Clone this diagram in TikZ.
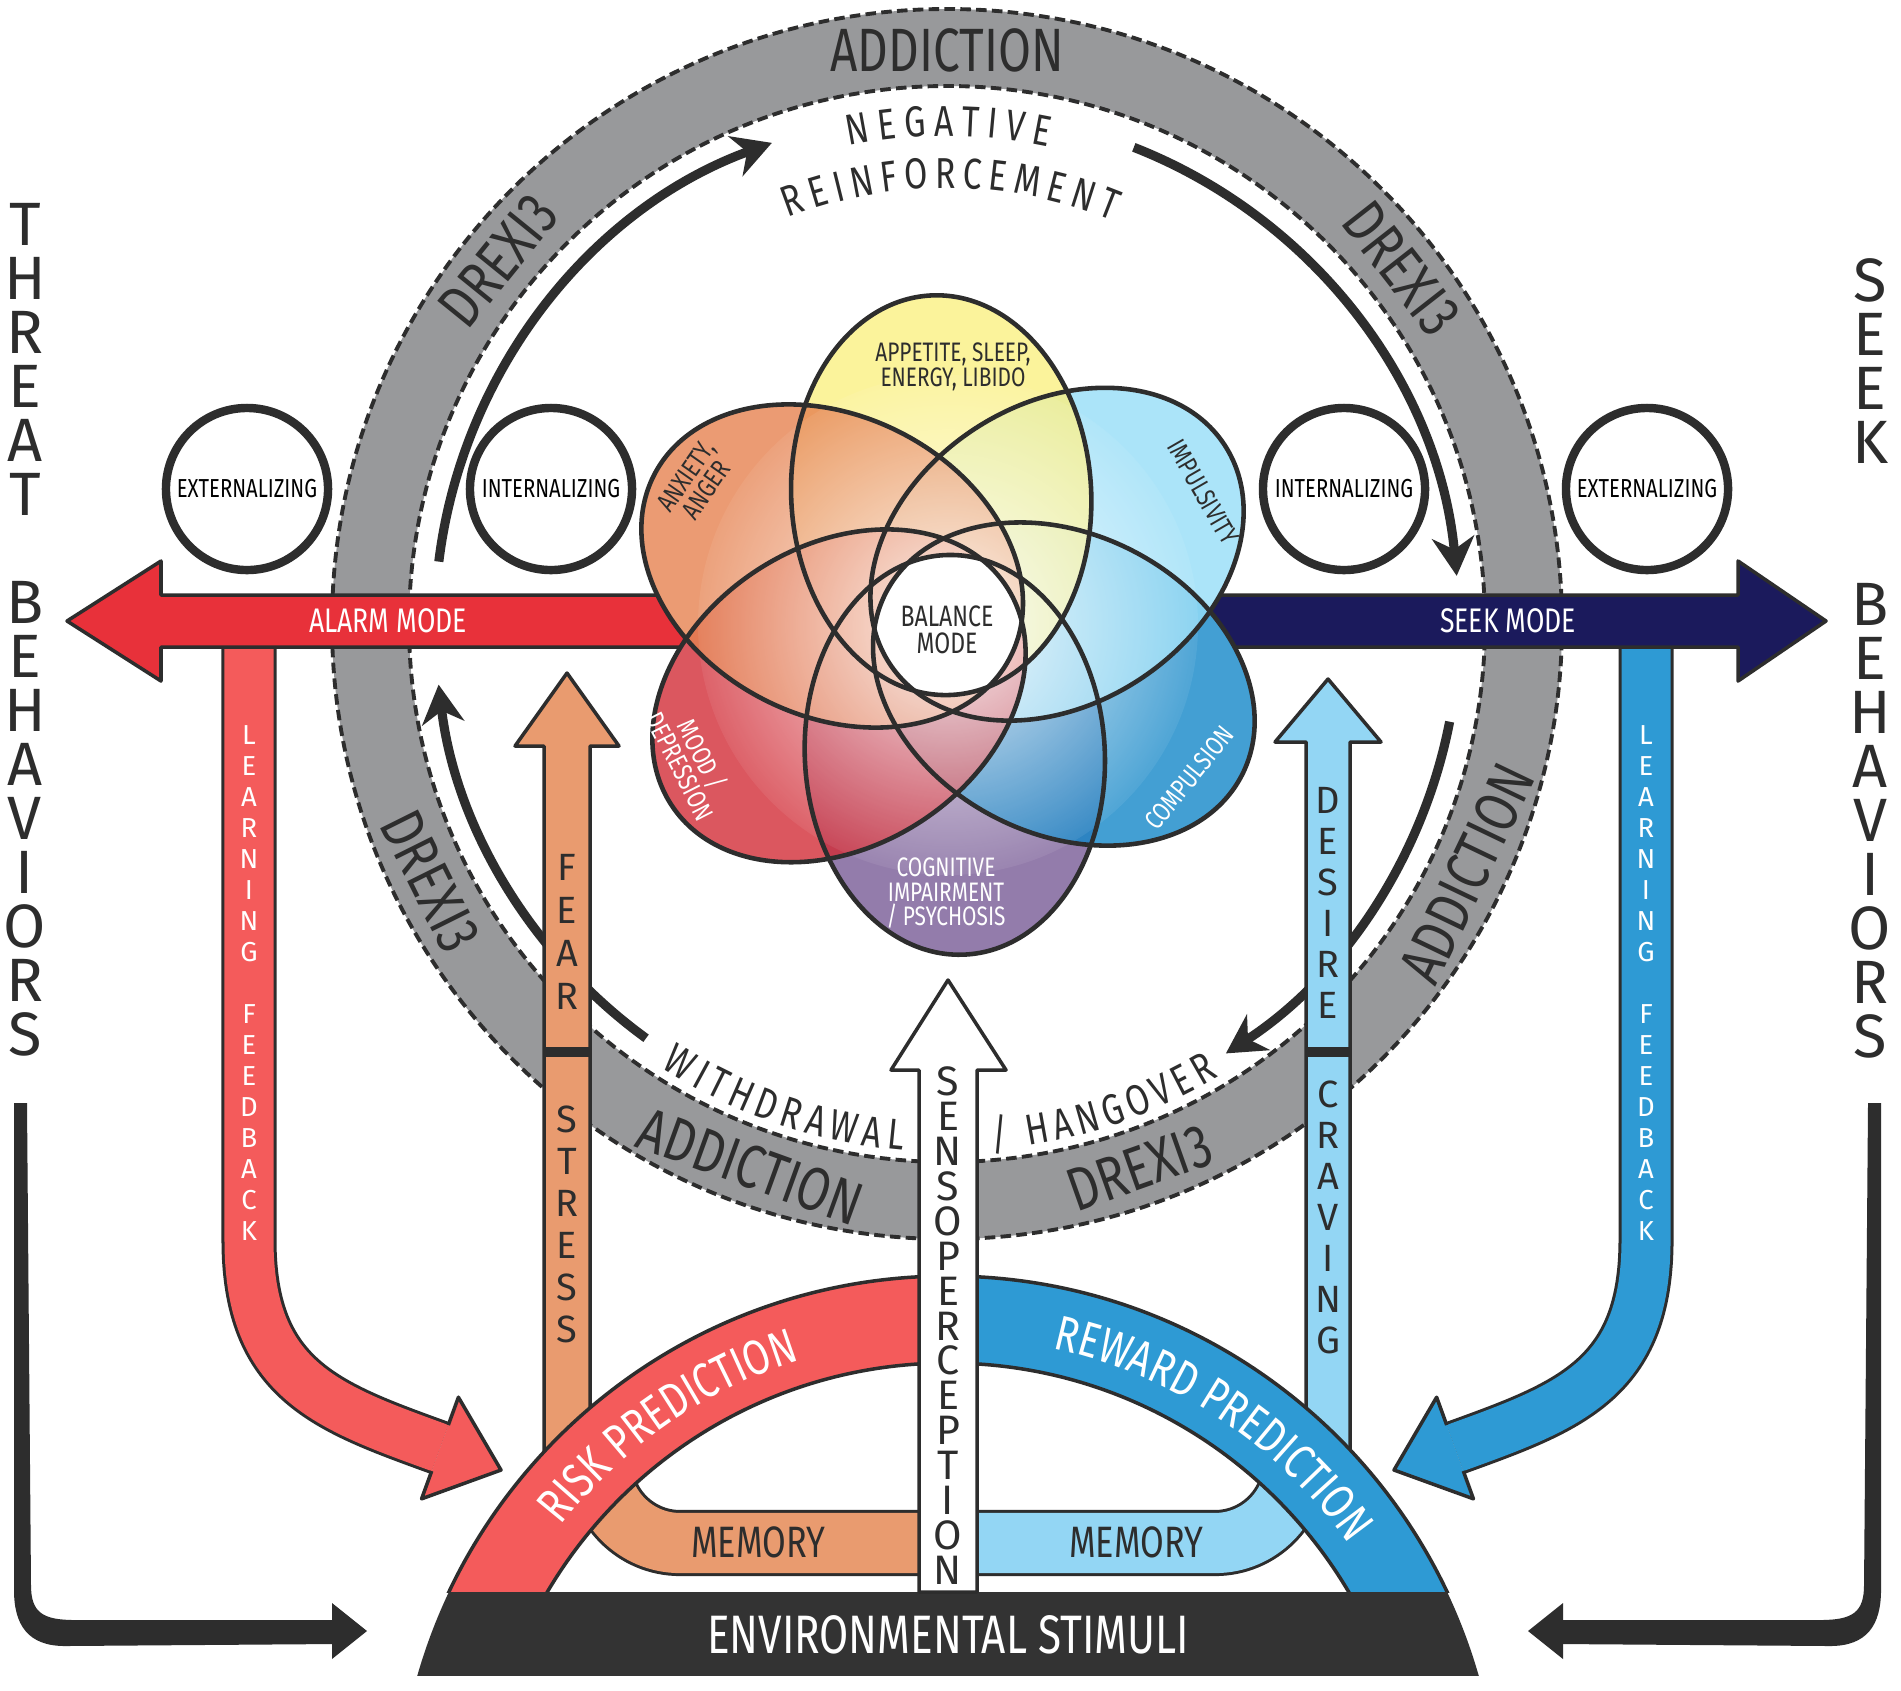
\documentclass[tikz,border=0pt]{standalone}
\usepackage{fontspec}
\setmainfont{Fira Sans}
\newfontfamily\condfont[FakeStretch=0.78]{Fira Sans}
\usetikzlibrary{arrows.meta,decorations.text,fadings}

\definecolor{ringgray}{RGB}{152,153,155}
\definecolor{inkdark}{RGB}{45,45,45}
\definecolor{alarmred}{RGB}{232,49,58}
\definecolor{seeknavy}{RGB}{27,26,92}
\definecolor{riskred}{RGB}{244,91,91}
\definecolor{rewardblue}{RGB}{46,154,212}
\definecolor{fearorange}{RGB}{233,155,111}
\definecolor{desireblue}{RGB}{147,214,244}
\definecolor{basedark}{RGB}{51,51,51}
\definecolor{pyel}{RGB}{250,240,130}
\definecolor{plbl}{RGB}{150,222,248}
\definecolor{pblu}{RGB}{20,135,200}
\definecolor{ppur}{RGB}{120,92,150}
\definecolor{pred}{RGB}{210,45,55}
\definecolor{pora}{RGB}{230,130,80}

\tikzfading[name=centerfade, inner color=transparent!0, outer color=transparent!100]

% clip to one petal of the flower
\newcommand\petalclip[1]{\clip[shift={(flc)}, rotate=#1] (130,0) ellipse [x radius=200, y radius=150];}

\begin{document}
\begin{tikzpicture}
    [x=0.01cm, y=-0.01cm,
    ringtxt/.style={font=\condfont\fontsize{17.4}{18}\selectfont, text=inkdark},
    ringedge/.style={inkdark, line width=1.1pt, dash pattern=on 3pt off 1.5pt},
    cyclearrow/.style={inkdark, line width=2.6pt, -{Stealth[length=11pt, width=12pt, inset=3.5pt]}},
    modenode/.style={circle, draw=inkdark, line width=2.4pt, fill=white, minimum size=1.62cm, inner sep=0pt, font=\condfont\fontsize{7.4}{8}\selectfont},
    modetxt/.style={font=\condfont\fontsize{9.7}{10}\selectfont, text=white},
    petaledge/.style={draw=inkdark, line width=1.3pt},
    petaltxt/.style={font=\condfont\fontsize{7.6}{7}\selectfont, align=center, text=inkdark},
    sideletter/.style={font=\fontsize{17.4}{18}\selectfont, text=inkdark},
    fbletter/.style={font=\fontsize{7.8}{8}\selectfont, text=white},
    barletter/.style={font=\fontsize{10.8}{11}\selectfont, text=inkdark},
    senseletter/.style={font=\fontsize{11.7}{12}\selectfont, text=inkdark},
    bandedge/.style={draw=inkdark, line width=1pt, line join=round},
    memtxt/.style={font=\condfont\fontsize{12.5}{13}\selectfont, text=inkdark},
    basetxt/.style={font=\condfont\fontsize{15.4}{16}\selectfont, text=white}]

    \useasboundingbox (0,0) rectangle (1901,1690);
    \fill[white] (0,0) rectangle (1901,1690);

    % gray addiction ring
    \coordinate (ringc) at (947,624);
    \fill[ringgray, even odd rule] (ringc) circle (615) (ringc) circle (538);
    \draw[ringedge] (ringc) circle (615);
    \draw[ringedge] (ringc) circle (538);

    % labels on the ring
    \node[ringtxt] (addtop) at ([shift={(-90:574)}]ringc) {ADDICTION};
    \node[ringtxt, rotate=51] (drexul) at ([shift={(-141:577)}]ringc) {DREXI3};
    \node[ringtxt, rotate=-52] (drexur) at ([shift={(-38:577)}]ringc) {DREXI3};
    \node[ringtxt, rotate=-63.5] (drexll) at ([shift={(-206.5:577)}]ringc) {DREXI3};
    \node[ringtxt, rotate=64.4] (addlr) at ([shift={(25.6:577)}]ringc) {ADDICTION};
    \node[ringtxt, rotate=-19.9] (addbl) at ([shift={(-250.1:577)}]ringc) {ADDICTION};
    \node[ringtxt, rotate=19.5] (drexbr) at ([shift={(70.5:577)}]ringc) {DREXI3};

    % spaced labels inside the ring
    \path[decorate, decoration={text along path, text align={fit to path}, text color=inkdark,
        text={|\condfont\fontsize{12.3}{13}\selectfont|NEGATIVE}}]
        ([shift={(-101.6:488)}]ringc) arc[start angle=-101.6, end angle=-78, radius=488];
    \path[decorate, decoration={text along path, text align={fit to path}, text color=inkdark,
        text={|\condfont\fontsize{12.3}{13}\selectfont|REINFORCEMENT}}]
        ([shift={(-111.4:436)}]ringc) arc[start angle=-111.4, end angle=-67.6, radius=436];
    \path[decorate, decoration={text along path, text align={fit to path}, text color=inkdark,
        text={|\condfont\fontsize{12.3}{13}\selectfont|WITHDRAWAL}}]
        ([shift={(-237.2:528)}]ringc) arc[start angle=-237.2, end angle=-265.2, radius=528];
    \path[decorate, decoration={text along path, text align={fit to path}, text color=inkdark,
        text={|\condfont\fontsize{12.3}{13}\selectfont|/ HANGOVER}}]
        ([shift={(-274.9:528)}]ringc) arc[start angle=-274.9, end angle=-301, radius=528];

    % cycle arrows
    \draw[cyclearrow] ([shift={(-173:512)}]ringc) arc[start angle=-173, end angle=-110, radius=512];
    \draw[cyclearrow] ([shift={(-68.6:512)}]ringc) arc[start angle=-68.6, end angle=-5.4, radius=512];
    \draw[cyclearrow] ([shift={(11:512)}]ringc) arc[start angle=11, end angle=57, radius=512];
    \draw[cyclearrow] ([shift={(126:512)}]ringc) arc[start angle=126, end angle=173.2, radius=512];

    % externalizing / internalizing circles
    \node[modenode] (extleft) at (247,489) {EXTERNALIZING};
    \node[modenode] (intleft) at (551,489) {INTERNALIZING};
    \node[modenode] (intright) at (1344,489) {INTERNALIZING};
    \node[modenode] (extright) at (1647,489) {EXTERNALIZING};

    % learning feedback arrows
    \draw[inkdark, line width=15.65pt] (249,640) -- (249,1240) .. controls (249,1380) and (327,1407) .. (440,1448);
    \draw[riskred, line width=13.94pt] (249,640) -- (249,1240) .. controls (249,1380) and (327,1407) .. (440,1448);
    \fill[riskred] (421.6,1498.8) -- (501,1470) -- (458.4,1397.2) -- cycle;
    \draw[bandedge] (431.7,1471) -- (421.6,1498.8) -- (501,1470) -- (458.4,1397.2) -- (448.3,1425);
    \draw[inkdark, line width=15.65pt] (1646,640) -- (1646,1240) .. controls (1646,1380) and (1568,1407) .. (1455,1448);
    \draw[rewardblue, line width=13.94pt] (1646,640) -- (1646,1240) .. controls (1646,1380) and (1568,1407) .. (1455,1448);
    \fill[rewardblue] (1473.4,1498.8) -- (1394,1470) -- (1436.6,1397.2) -- cycle;
    \draw[bandedge] (1463.3,1471) -- (1473.4,1498.8) -- (1394,1470) -- (1436.6,1397.2) -- (1446.7,1425);
    \foreach \ch [count=\i from 0] in {L,E,A,R,N,I,N,G,{},F,E,E,D,B,A,C,K}
        \node[fbletter] (fbl\i) at (249,{735+31*\i}) {\ch};
    \foreach \ch [count=\i from 0] in {L,E,A,R,N,I,N,G,{},F,E,E,D,B,A,C,K}
        \node[fbletter] (fbr\i) at (1646,{735+31*\i}) {\ch};

    % alarm and seek mode arrows
    \filldraw[fill=alarmred, bandedge] (67,621) -- (161,561) -- (161,595) -- (820,595) -- (820,647) -- (161,647) -- (161,681) -- cycle;
    \node[modetxt] (alarm) at (388,621) {ALARM MODE};
    \filldraw[fill=seeknavy, bandedge] (1826,621) -- (1738,561) -- (1738,595) -- (1080,595) -- (1080,647) -- (1738,647) -- (1738,681) -- cycle;
    \node[modetxt] (seek) at (1508,621) {SEEK MODE};

    % flower of six petals
    \coordinate (flc) at (948,625);
    \foreach \ang in {93,33,-27,-87,-147,153}
        \fill[white, shift={(flc)}, rotate=\ang] (130,0) ellipse [x radius=200, y radius=150];
    \foreach \ang/\col in {-87/ppur, -27/pblu, 33/plbl, 93/pyel, -147/pred, 153/pora}
        \fill[\col, fill opacity=0.8, shift={(flc)}, rotate=\ang] (130,0) ellipse [x radius=200, y radius=150];
    \begin{scope}
        \clip (flc) circle (250);
        \fill[white, path fading=centerfade, fill opacity=0.9] (flc) circle (270);
    \end{scope}
    \begin{scope}
        \petalclip{93}\petalclip{33}\petalclip{-27}\petalclip{-87}\petalclip{-147}\petalclip{153}
        \fill[white] (flc) circle (300);
    \end{scope}
    \foreach \ang in {93,33,-27,-87,-147,153}
        \draw[petaledge, shift={(flc)}, rotate=\ang] (130,0) ellipse [x radius=200, y radius=150];

    % petal labels
    \node[petaltxt] (appetite) at (953,367) {APPETITE, SLEEP,\\ENERGY, LIBIDO};
    \node[petaltxt, rotate=55] (anxiety) at (696,483) {ANXIETY,\\ANGER};
    \node[petaltxt, rotate=-60] (impuls) at (1203,492) {IMPULSIVITY};
    \node[petaltxt, rotate=51, text=white] (compul) at (1189,778) {COMPULSION};
    \node[petaltxt, text=white] (cognit) at (946,893) {COGNITIVE\\IMPAIRMENT\\/ PSYCHOSIS};
    \node[petaltxt, rotate=-63, text=white] (mood) at (692,760) {MOOD /\\DEPRESSION};
    \node[petaltxt, font=\condfont\fontsize{8.4}{7.8}\selectfont] (balance) at (947,630) {BALANCE\\MODE};

    % memory bands
    \draw[inkdark, line width=18.8pt, rounded corners=0.8cm] (600,1440) -- (600,1543) -- (940,1543);
    \draw[fearorange, line width=17.1pt, rounded corners=0.8cm] (600,1440) -- (600,1543) -- (940,1543);
    \draw[inkdark, line width=18.8pt, rounded corners=0.8cm] (1295,1440) -- (1295,1543) -- (955,1543);
    \draw[desireblue, line width=17.1pt, rounded corners=0.8cm] (1295,1440) -- (1295,1543) -- (955,1543);
    \node[memtxt] (memleft) at (758,1542) {MEMORY};
    \node[memtxt] (memright) at (1136,1542) {MEMORY};

    % fear / stress and desire / craving bars
    \filldraw[fill=fearorange, bandedge] (544,1470) -- (544,746) -- (515,746) -- (567,673) -- (619,746) -- (590,746) -- (590,1470) -- cycle;
    \draw[inkdark, line width=2.6pt] (544,1052) -- (590,1052);
    \filldraw[fill=desireblue, bandedge] (1306,1470) -- (1306,742) -- (1275,742) -- (1328,679) -- (1381,742) -- (1350,742) -- (1350,1470) -- cycle;
    \draw[inkdark, line width=2.6pt] (1306,1052) -- (1350,1052);
    \foreach \ch [count=\i from 0] in {F,E,A,R}
        \node[barletter] (fear\i) at (567,{867+43*\i}) {\ch};
    \foreach \ch [count=\i from 0] in {S,T,R,E,S,S}
        \node[barletter] (stress\i) at (567,{1119+42*\i}) {\ch};
    \foreach \ch [count=\i from 0] in {D,E,S,I,R,E}
        \node[barletter] (desire\i) at (1328,{800+41*\i}) {\ch};
    \foreach \ch [count=\i from 0] in {C,R,A,V,I,N,G}
        \node[barletter] (craving\i) at (1328,{1094+41*\i}) {\ch};

    % risk and reward prediction arcs
    \coordinate (predc) at (948,1828);
    \begin{scope}
        \clip (0,0) rectangle (1901,1592);
        \filldraw[fill=riskred, bandedge] ([shift={(-90:552)}]predc) arc[start angle=-90, end angle=-180, radius=552]
            -- ([shift={(-180:465)}]predc) arc[start angle=-180, end angle=-90, radius=465] -- cycle;
        \filldraw[fill=rewardblue, bandedge] ([shift={(-90:552)}]predc) arc[start angle=-90, end angle=0, radius=552]
            -- ([shift={(0:465)}]predc) arc[start angle=0, end angle=-90, radius=465] -- cycle;
    \end{scope}
    \path[decorate, decoration={text along path, text align=center, text color=white,
        text={|\condfont\fontsize{14}{14}\selectfont|RISK PREDICTION}}]
        ([shift={(-150:491)}]predc) arc[start angle=-150, end angle=-99.5, radius=491];
    \path[decorate, decoration={text along path, text align=center, text color=white,
        text={|\condfont\fontsize{14}{14}\selectfont|REWARD PREDICTION}}]
        ([shift={(-80:491)}]predc) arc[start angle=-80, end angle=-33, radius=491];

    % environmental stimuli base
    \begin{scope}
        \clip (predc) circle (552);
        \fill[basedark] (380,1592) rectangle (1520,1676);
    \end{scope}
    \node[basetxt] (env) at (948,1635) {ENVIRONMENTAL STIMULI};

    % sensoperception arrow
    \filldraw[fill=white, bandedge] (919,1592) -- (919,1070) -- (891,1070) -- (948,980) -- (1006,1070) -- (977,1070) -- (977,1592) -- cycle;
    \foreach \ch [count=\i from 0] in {S,E,N,S,O,P,E,R,C,E,P,T,I,O,N}
        \node[senseletter] (sense\i) at (948,{1081.5+34.9*\i}) {\ch};

    % threat and seek behaviors
    \foreach \ch [count=\i from 0] in {T,H,R,E,A,T,{},B,E,H,A,V,I,O,R,S}
        \node[sideletter] (threat\i) at (25,{224+54*\i}) {\ch};
    \foreach \ch [count=\i from 0] in {S,E,E,K,{},{},B,E,H,A,V,I,O,R,S}
        \node[sideletter] (seekb\i) at (1870,{280+54*\i}) {\ch};

    % return arrows to the stimuli
    \fill[inkdark] (14,1103) -- (27,1103) -- (31,1585) .. controls (31,1612) and (42,1620) .. (75,1620)
        -- (334,1620) -- (334,1644) -- (65,1646) .. controls (28,1646) and (14,1625) .. (14,1590) -- cycle;
    \fill[inkdark] (332,1603) -- (367,1631) -- (332,1659) -- cycle;
    \fill[inkdark] (1881,1103) -- (1868,1103) -- (1864,1585) .. controls (1864,1612) and (1853,1620) .. (1820,1620)
        -- (1561,1620) -- (1561,1644) -- (1830,1646) .. controls (1867,1646) and (1881,1625) .. (1881,1590) -- cycle;
    \fill[inkdark] (1563,1603) -- (1528,1631) -- (1563,1659) -- cycle;

\end{tikzpicture}
\end{document}
